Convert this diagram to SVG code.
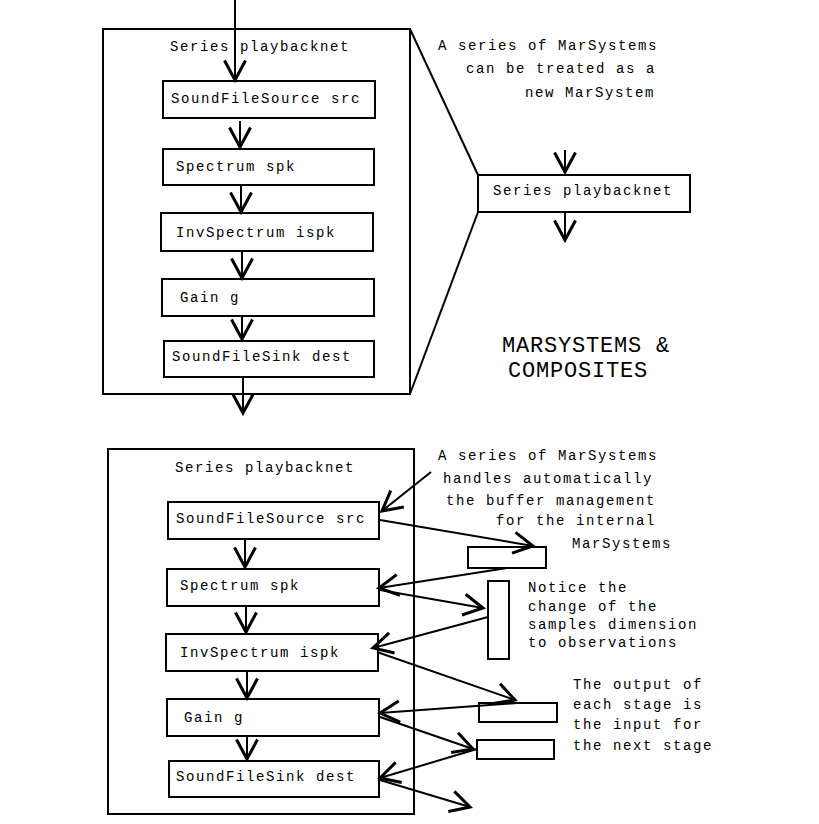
<svg xmlns="http://www.w3.org/2000/svg" width="819" height="824" viewBox="0 0 819 824">
<style>
rect{fill:#fff;stroke:#000;stroke-width:2}
.c line{stroke:#000;stroke-width:2}
.a{marker-end:url(#ah)}
text{font-family:"Liberation Mono","DejaVu Sans Mono",monospace;font-size:14px;letter-spacing:1.6px;fill:#000}
.t{font-size:22px;letter-spacing:0.8px}
</style>
<defs>
<marker id="ah" markerUnits="userSpaceOnUse" markerWidth="30" markerHeight="30" viewBox="-15 -10 20 20" refX="0" refY="0" orient="auto">
<path d="M-13,-7 L0,0 L-13,7" fill="none" stroke="#000" stroke-width="2"/>
</marker>
</defs>
<rect x="0" y="0" width="819" height="824" style="stroke:none"/>
<g id="top-composite">
<rect x="103" y="29" width="307" height="365"/>
<text x="170" y="51">Series playbacknet</text>
</g>
<g id="top-src"><rect x="163" y="81" width="212" height="37"/><text x="171" y="103">SoundFileSource src</text></g>
<g id="top-spk"><rect x="163" y="149" width="211" height="36"/><text x="176" y="171">Spectrum spk</text></g>
<g id="top-ispk"><rect x="161" y="213" width="212" height="38"/><text x="176" y="237">InvSpectrum ispk</text></g>
<g id="top-gain"><rect x="162" y="279" width="212" height="37"/><text x="180" y="302">Gain g</text></g>
<g id="top-dest"><rect x="164" y="341" width="210" height="36"/><text x="172" y="361">SoundFileSink dest</text></g>
<g id="small-composite"><rect x="478" y="175" width="212" height="37"/><text x="493" y="195">Series playbacknet</text></g>
<g id="note1">
<text x="438" y="50">A series of MarSystems</text>
<text x="466" y="73">can be treated as a</text>
<text x="525" y="97">new MarSystem</text>
</g>
<g id="title">
<text class="t" x="502" y="352">MARSYSTEMS &amp;</text>
<text class="t" x="508" y="377">COMPOSITES</text>
</g>
<g id="bottom-composite">
<rect x="108" y="449" width="306" height="365"/>
<text x="175" y="472">Series playbacknet</text>
</g>
<g id="b-src"><rect x="168" y="502" width="211" height="37"/><text x="176" y="523">SoundFileSource src</text></g>
<g id="b-spk"><rect x="167" y="569" width="212" height="37"/><text x="180" y="590">Spectrum spk</text></g>
<g id="b-ispk"><rect x="166" y="634" width="212" height="37"/><text x="180" y="657">InvSpectrum ispk</text></g>
<g id="b-gain"><rect x="167" y="699" width="212" height="37"/><text x="184" y="722">Gain g</text></g>
<g id="b-dest"><rect x="169" y="761" width="210" height="36"/><text x="176" y="781">SoundFileSink dest</text></g>
<g id="buf-a"><rect x="468" y="547" width="78" height="21"/></g>
<g id="buf-b"><rect x="488" y="581" width="21" height="78"/></g>
<g id="buf-c"><rect x="479" y="703" width="78" height="19"/></g>
<g id="buf-d"><rect x="477" y="740" width="77" height="19"/></g>
<g id="note2">
<text x="438" y="460">A series of MarSystems</text>
<text x="443" y="483">handles automatically</text>
<text x="446" y="505">the buffer management</text>
<text x="496" y="525">for the internal</text>
<text x="572" y="548">MarSystems</text>
</g>
<g id="note3">
<text x="528" y="592">Notice the</text>
<text x="528" y="611">change of the</text>
<text x="528" y="629">samples dimension</text>
<text x="528" y="647">to observations</text>
</g>
<g id="note4">
<text x="573" y="689">The output of</text>
<text x="573" y="709">each stage is</text>
<text x="573" y="729">the input for</text>
<text x="573" y="750">the next stage</text>
</g>
<g id="connectors" class="c">
<line class="a" x1="235" y1="0" x2="235" y2="80"/>
<line class="a" x1="240" y1="121" x2="240" y2="147"/>
<line class="a" x1="241" y1="185" x2="241" y2="212"/>
<line class="a" x1="242" y1="251" x2="242" y2="278"/>
<line class="a" x1="242" y1="316" x2="242" y2="339"/>
<line class="a" x1="243" y1="377" x2="243" y2="413"/>
<line x1="410" y1="29" x2="478" y2="175"/>
<line x1="410" y1="394" x2="478" y2="212"/>
<line class="a" x1="565" y1="150" x2="565" y2="172"/>
<line class="a" x1="565" y1="212" x2="565" y2="240"/>
<line class="a" x1="245" y1="539" x2="245" y2="567"/>
<line class="a" x1="246" y1="606" x2="246" y2="632"/>
<line class="a" x1="247" y1="671" x2="247" y2="698"/>
<line class="a" x1="247" y1="736" x2="247" y2="759"/>
<line class="a" x1="431" y1="472" x2="382" y2="511"/>
<line class="a" x1="380" y1="520" x2="533" y2="546"/>
<line class="a" x1="507" y1="568" x2="379" y2="588"/>
<line class="a" x1="380" y1="590" x2="483" y2="608"/>
<line class="a" x1="488" y1="617" x2="373" y2="648"/>
<line class="a" x1="377" y1="652" x2="515" y2="700"/>
<line class="a" x1="517" y1="703" x2="380" y2="713"/>
<line class="a" x1="380" y1="717" x2="473" y2="749"/>
<line class="a" x1="477" y1="749" x2="380" y2="778"/>
<line class="a" x1="380" y1="780" x2="470" y2="807"/>
</g>
</svg>
